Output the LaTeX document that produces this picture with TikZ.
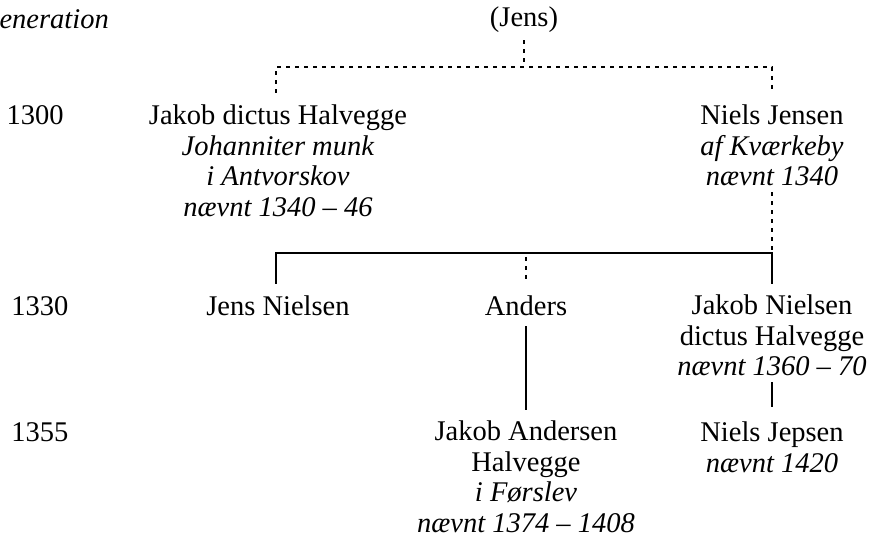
\documentclass[tikz,border=0pt]{standalone}
\usepackage{fontspec}
\setmainfont{Liberation Serif}
\usetikzlibrary{positioning}

\begin{document}
\begin{tikzpicture}[x=1pt,y=-1pt,inner sep=0mm,
  lbl/.style={font=\fontsize{28.5}{30.5}\selectfont},
  txt/.style={lbl,align=center,anchor=north},
  dotline/.style={line width=2.2pt,dash pattern=on 4pt off 5pt},
  famline/.style={line width=1.8pt}]

\useasboundingbox (0,0) rectangle (870,537);
\clip (0,0) rectangle (870,537);

% generationer
\node[lbl,anchor=base east] (gen) at (109,29) {\textit{Generation}};
\node[lbl] (g1300) at (35,115) {1300};
\node[lbl] (g1330) at (40,306) {1330};
\node[lbl] (g1355) at (40,432) {1355};

% personer
\node[lbl,anchor=base] (jens) at (524,27) {(Jens)};
\node[txt] (jakob) at (278,105) {Jakob dictus Halvegge\\\textit{Johanniter munk}\\\textit{i Antvorskov}\\\textit{nævnt 1340 – 46}};
\node[txt] (niels) at (772,105) {Niels Jensen\\\textit{af Kværkeby}\\\textit{nævnt 1340}};
\node[txt] (jensn) at (278,296) {Jens Nielsen};
\node[txt] (anders) at (526,296) {Anders};
\node[txt] (jakobn) at (772,295) {Jakob Nielsen\\dictus Halvegge\\\textit{nævnt 1360 – 70}};
\node[txt] (jakoba) at (526,421) {Jakob Andersen\\Halvegge\\\textit{i Førslev}\\\textit{nævnt 1374 – 1408}};
\node[txt] (nielsj) at (772,422) {Niels Jepsen\\\textit{nævnt 1420}};

\coordinate (top) at (524,67); %under Jens
\coordinate (tl) at (276,67); %venstre
\coordinate (tr) at (772,67); %hoejre
\coordinate (tl1) at (276,93);
\coordinate (tr1) at (772,93);
\coordinate (ml) at (276,253); %soeskende linje
\coordinate (mm) at (526,253);
\coordinate (mr) at (772,253);
\coordinate (bl) at (276,284);
\coordinate (bm) at (526,283);
\coordinate (br) at (772,284);

\draw[dotline] ([yshift=-7pt]jens.south) -- (top);
\draw[dotline] (tl1) -- (tl) -- (tr) -- (tr1);
\draw[dotline] ([yshift=-6pt]niels.south) -- (mr);
\draw[famline] (bl) -- (ml) -- (mr) -- (br);
\draw[dotline] ([yshift=-4pt]mm) -- (bm);
\draw[famline] ([yshift=-10pt]anders.south) -- ([yshift=11pt]jakoba.north);
\draw[famline] ([yshift=-6pt]jakobn.south) -- ([yshift=15pt]nielsj.north);
\end{tikzpicture}
\end{document}
